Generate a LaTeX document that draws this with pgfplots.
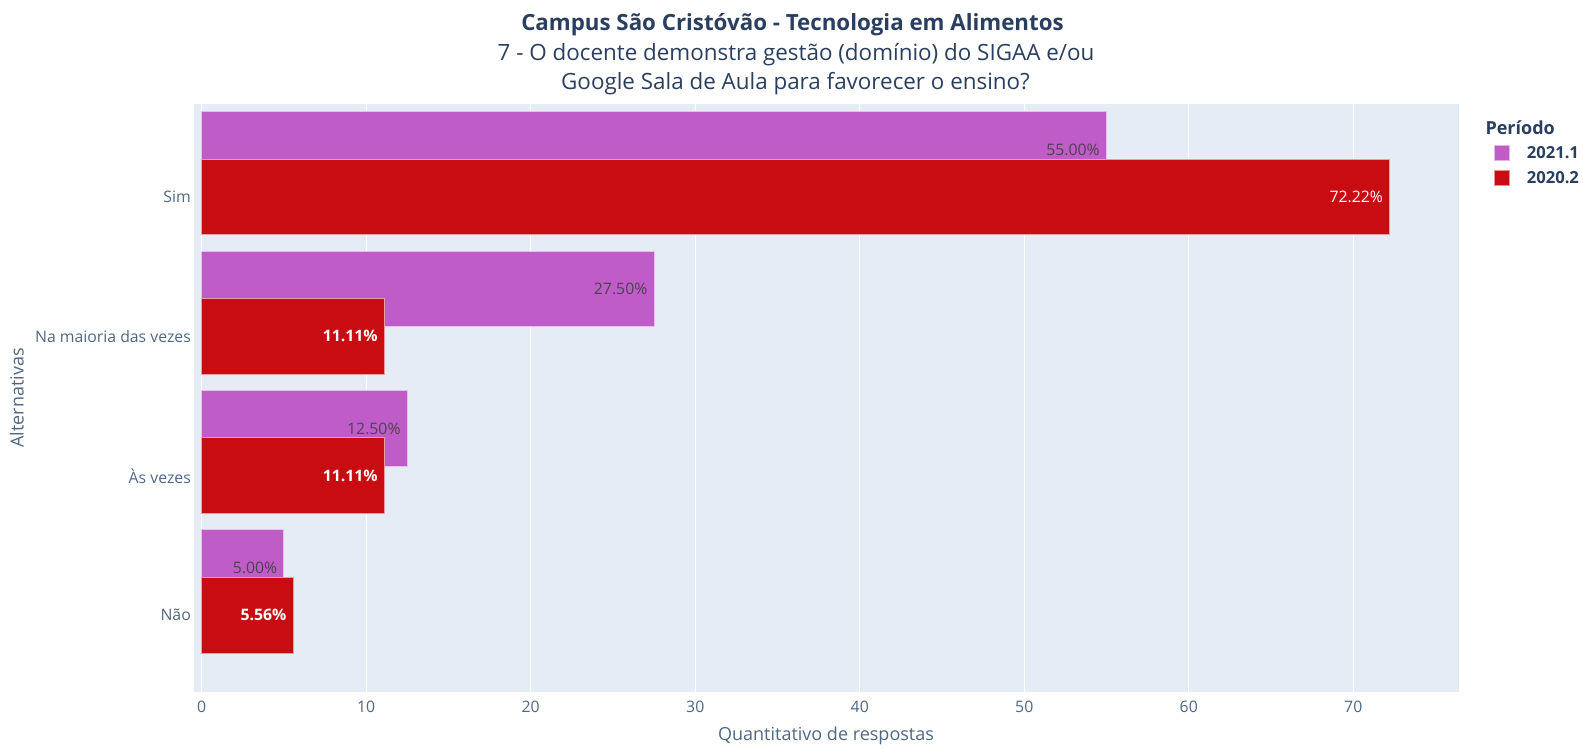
\documentclass[border=0pt]{standalone}
\usepackage{fontspec}
\setmainfont{Open Sans}
\usepackage{pgfplots}
\pgfplotsset{compat=1.18}

\definecolor{bgC}{HTML}{E5ECF6}
\definecolor{purpC}{HTML}{BF5CC8}
\definecolor{redC}{HTML}{C80C12}
\definecolor{txtC}{HTML}{2A3F5F}
\definecolor{tickC}{HTML}{506784}
\definecolor{lblC}{HTML}{4E4152}

\begin{document}
\begin{tikzpicture}
\useasboundingbox (0,0) rectangle (1583pt,748pt);
\begin{axis}[
    at={(194pt,56pt)}, anchor=south west,
    scale only axis, width=1265pt, height=588pt,
    xmin=-0.47, xmax=76.43, ymin=-0.551, ymax=3.667,
    xtick={0,10,...,70},
    ytick={0,1,2,3},
    yticklabels={Não, Às vezes, Na maioria das vezes, Sim},
    /pgf/number format/assume math mode=true,
    axis background/.style={fill=bgC},
    axis line style={draw=none},
    major tick length=0pt,
    xmajorgrids, grid style={white, line width=1.2pt},
    tick label style={font=\fontsize{15.8}{19}\selectfont, text=tickC},
    xticklabel style={anchor=center, yshift=-15pt},
    yticklabel style={anchor=east, inner sep=0pt, xshift=-3pt},
    legend style={at={(1.0275,0.93)}, anchor=north west, draw=none, fill=none,
        inner sep=0pt, row sep=9pt, column sep=17pt,
        font=\bfseries\fontsize{16.6}{20}\selectfont, text=txtC,
        nodes={inner sep=0pt}},
    legend cell align=left,
    nodes near coords, point meta=explicit symbolic,
    every node near coord/.append style={anchor=east, xshift=-3pt,
        font=\fontsize{15.8}{19}\selectfont},
]

% 2021.1
\addplot[xbar, bar shift=0pt, bar width=0.543, fill=purpC,
    draw=white!60!purpC, line width=1pt,
    every node near coord/.append style={text=lblC},
    legend image code/.code={\filldraw[fill=purpC, draw=white!55!purpC, line width=0.8pt] (0pt,-7.5pt) rectangle (15pt,7.5pt);}]
coordinates {(55,3.34)[55.00\%] (27.5,2.34)[27.50\%] (12.5,1.34)[12.50\%] (5,0.34)[5.00\%]};
\addlegendentry{2021.1}

% 2020.2
\addplot[xbar, bar shift=0pt, bar width=0.543, fill=redC,
    draw=white!60!redC, line width=1pt,
    every node near coord/.append style={text=white},
    legend image code/.code={\filldraw[fill=redC, draw=white!55!redC, line width=0.8pt] (0pt,-7.5pt) rectangle (15pt,7.5pt);}]
coordinates {(72.22,3)[72.22\%] (11.11,2)[\textbf{11.11\%}] (11.11,1)[\textbf{11.11\%}] (5.56,0)[\textbf{5.56\%}]};
\addlegendentry{2020.2}

\end{axis}

\node[font=\bfseries\fontsize{22.3}{26}\selectfont, text=txtC] at (792.5pt,723pt)
    {Campus São Cristóvão - Tecnologia em Alimentos};
\node[font=\fontsize{22.4}{26}\selectfont, text=txtC] at (796pt,693.5pt)
    {7 - O docente demonstra gestão (domínio) do SIGAA e/ou};
\node[font=\fontsize{22.4}{26}\selectfont, text=txtC] at (795.5pt,664pt)
    {Google Sala de Aula para favorecer o ensino?};
\node[anchor=west, font=\bfseries\fontsize{18}{22}\selectfont, text=txtC] at (1482pt,620pt) {Período};
\node[rotate=90, font=\fontsize{18}{22}\selectfont, text=tickC] at (17pt,350pt) {Alternativas};
\node[font=\fontsize{18}{22}\selectfont, text=tickC] at (826pt,12pt) {Quantitativo de respostas};
\end{tikzpicture}
\end{document}
